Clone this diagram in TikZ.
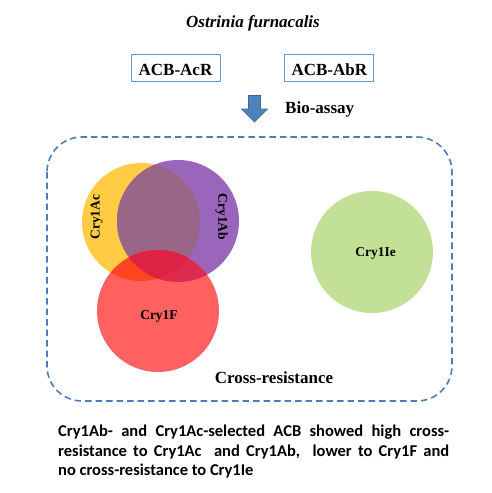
\documentclass[tikz,border=0pt]{standalone}
\usepackage{fontspec}
\setmainfont{Liberation Serif}
\newfontfamily\carlito{Carlito}
\usetikzlibrary{shapes.arrows}
\definecolor{cy}{HTML}{FFCC44}
\definecolor{cp}{HTML}{9966BB}
\definecolor{cyp}{HTML}{996688}
\definecolor{cr}{HTML}{FF6060}
\definecolor{cry}{HTML}{FF4422}
\definecolor{crp}{HTML}{DD2A4E}
\definecolor{cryp}{HTML}{DD2244}
\definecolor{cg}{HTML}{C2E196}
\definecolor{boxblue}{HTML}{5B9BD5}
\definecolor{dashblue}{HTML}{4A7EBB}
\definecolor{arrowfill}{HTML}{4F81BD}
\definecolor{arrowdraw}{HTML}{3A6699}
\tikzset{
  lbl/.style={font=\fontsize{13.5pt}{15pt}\selectfont\bfseries, inner sep=0pt},
  big/.style={font=\fontsize{17pt}{20pt}\selectfont\bfseries, inner sep=0pt},
  groupbox/.style={draw=boxblue, line width=0.9pt, minimum width=89pt, minimum height=27pt, inner sep=0pt}
}
\begin{document}
\begin{tikzpicture}[x=1pt,y=-1pt]
\useasboundingbox (0,0) rectangle (492,493);
% title
\node[big, anchor=base, font=\fontsize{17pt}{20pt}\selectfont\bfseries\itshape] (title) at (253,27.5) {Ostrinia furnacalis};
% boxes
\node[groupbox] (acr) at (175.5,68) {};
\node[big, anchor=base] (acrt) at (175.5,75.5) {ACB-AcR};
\node[groupbox] (abr) at (329.3,68) {};
\node[big, anchor=base] (abrt) at (329.3,75.5) {ACB-AbR};
% arrow
\fill[arrowfill, draw=arrowdraw, line width=0.6pt] (248.5,95.5) -- (260.5,95.5) -- (260.5,109) -- (267.5,109) -- (254.5,122) -- (241.5,109) -- (248.5,109) -- cycle;
\node[big, anchor=base west] (bio) at (285,113.5) {Bio-assay};
% dashed region
\draw[dashblue, line width=1.6pt, dash pattern=on 6.5pt off 4pt, rounded corners=35pt] (47,137) rectangle (452,401);
% circles
\coordinate (Y) at (141,222);
\coordinate (P) at (178,221);
\coordinate (R) at (158,311);
\coordinate (G) at (372,252);
\fill[cy] (Y) circle[radius=59pt];
\fill[cp] (P) circle[radius=61pt];
\begin{scope}
  \clip (Y) circle[radius=59pt];
  \fill[cyp] (P) circle[radius=61pt];
\end{scope}
\fill[cr] (R) circle[radius=61pt];
\begin{scope}
  \clip (R) circle[radius=61pt];
  \fill[cry] (Y) circle[radius=59pt];
  \fill[crp] (P) circle[radius=61pt];
  \clip (Y) circle[radius=59pt];
  \fill[cryp] (P) circle[radius=61pt];
\end{scope}
\fill[cg] (G) circle[radius=61pt];
% circle labels
\node[lbl, rotate=90] (lac) at (96.5,217) {Cry1Ac};
\node[lbl, rotate=-90] (lab) at (221.5,217) {Cry1Ab};
\node[lbl] (lf) at (159,316.5) {Cry1F};
\node[lbl] (lie) at (375.5,253) {Cry1Ie};
\node[big] (cross) at (274,378) {Cross-resistance};
% caption
\node[anchor=base west, inner sep=0pt] (cap) at (58,436.5) {\parbox[t]{391pt}{\carlito\bfseries\fontsize{16.5pt}{19.6pt}\selectfont
Cry1Ab- and Cry1Ac-selected ACB showed high cross-\linebreak resistance to Cry1Ac\ \ and Cry1Ab,\ \ lower to Cry1F and\linebreak no cross-resistance to Cry1Ie}};
\end{tikzpicture}
\end{document}
